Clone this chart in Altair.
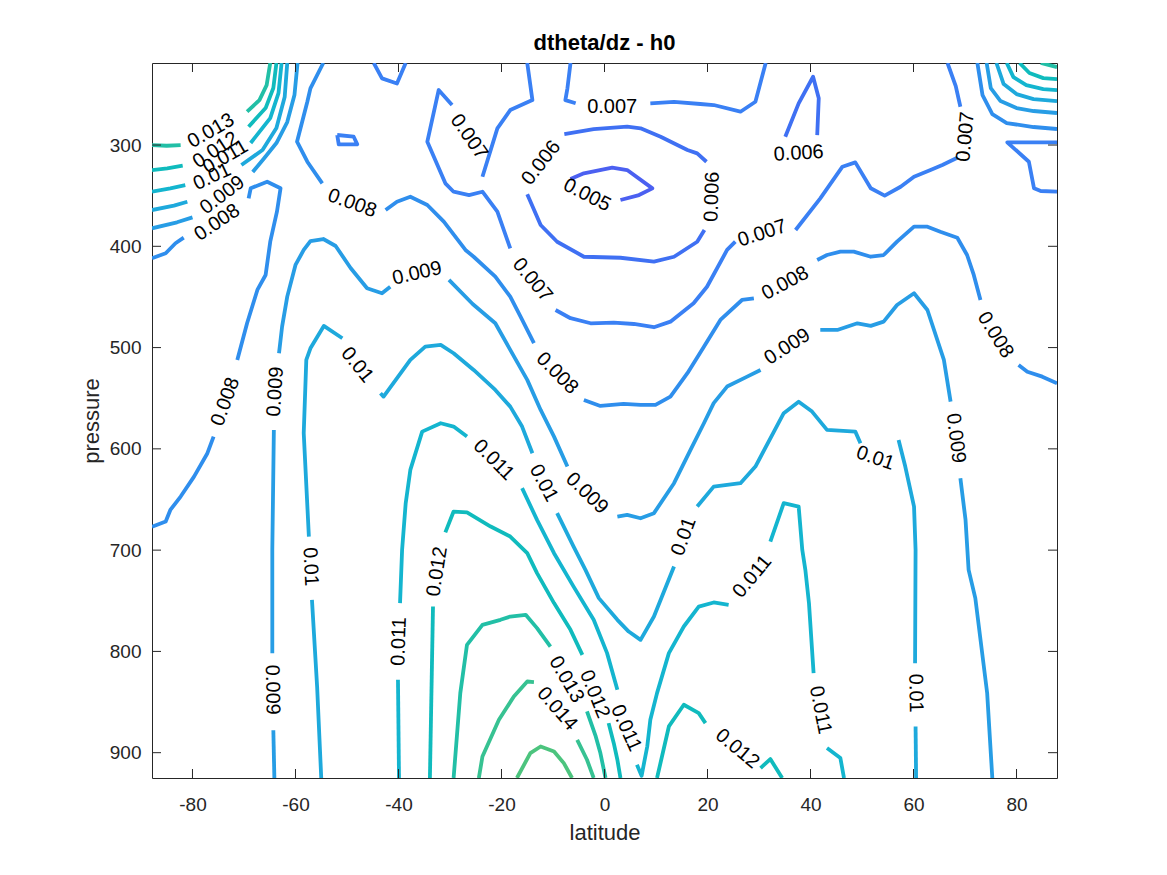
import altair as alt
import pandas as pd

FONT = "Liberation Sans"
LAT_DOMAIN = [-87.86, 87.86]
P_DOMAIN = [219.0, 925.0]

X_TICKS = [-80, -60, -40, -20, 0, 20, 40, 60, 80]
Y_TICKS = [300, 400, 500, 600, 700, 800, 900]

LEVELS = ["0.005", "0.006", "0.007", "0.008", "0.009", "0.01",
          "0.011", "0.012", "0.013", "0.014", "0.015"]
LEVEL_COLORS = ["#4b60f1", "#3f70f3", "#3a80f4", "#2f8eed", "#279de5", "#1ea9dc",
                "#14b5cf", "#10bbbd", "#22bfa6", "#37c292", "#4cc47e"]

# contour pieces per level: (latitudes, pressures)
C0005 = [
    ([-6.6, -4.0, 1.5, 4.4, 9.3, 6.7, 3.1], [333.6, 327.9, 322.4, 324.7, 342.8, 349.4, 354.3]),
]
C0006 = [
    ([-7.8, -2.1, 4.4, 7.0, 10.9, 16.1, 18.0, 19.8], [289.2, 284.2, 281.9, 283.5, 291.8, 304.9, 308.2, 316.5]),
    ([-15.0, -12.4, -9.2, -4.0, 3.1, 9.6, 13.5, 18.0, 19.4], [348.7, 379.0, 395.5, 410.3, 411.3, 415.2, 410.3, 395.5, 383.9]),
    ([35.1, 37.7, 40.5, 41.6, 41.3], [291.8, 258.9, 232.6, 253.9, 290.2]),
]
C0007 = [
    ([-15.0, -14.0, -18.3, -20.8, -23.7], [219.0, 255.6, 265.5, 283.5, 331.3]),
    ([-29.6, -32.2, -34.4, -30.9, -29.3, -26.3, -23.7, -20.8, -18.3], [260.5, 245.7, 296.7, 337.8, 346.1, 349.4, 346.1, 365.8, 402.0]),
    ([-9.5, -6.6, -2.7, 1.8, 5.7, 9.6, 12.8, 17.3, 19.9, 23.8, 25.4], [462.9, 471.0, 476.0, 475.4, 476.7, 479.9, 474.4, 456.2, 439.9, 403.6, 395.4]),
    ([37.1, 41.9, 46.2, 48.7, 51.7, 54.4, 57.5, 60.1, 63.3, 65.6, 68.5], [383.9, 352.6, 321.4, 317.1, 342.7, 350.0, 341.2, 331.3, 324.7, 319.7, 312.5]),
    ([69.1, 68.2, 66.6], [262.2, 241.8, 219.0]),
    ([-6.6, -7.2, -7.6, -5.6], [219.0, 244.0, 255.6, 258.8]),
    ([8.9, 13.5, 18.6, 21.2, 26.4, 29.3, 31.3], [258.8, 257.3, 259.5, 260.5, 267.1, 257.3, 219.0]),
    ([87.86, 78.2, 82.4, 83.4, 84.7, 87.86], [297.3, 297.3, 316.5, 342.7, 345.4, 346.1]),
    ([-44.8, -43.2, -40.3, -38.6], [219.0, 234.2, 239.2, 219.0]),
    ([-51.9, -48.7, -48.0, -51.6, -51.9], [290.1, 291.8, 299.3, 299.3, 290.1]),
]
C0008 = [
    ([-54.6, -57.1, -57.7, -59.7, -57.7, -54.8], [219.0, 244.0, 257.3, 296.7, 316.5, 337.8]),
    ([-42.5, -40.3, -37.7, -34.4, -31.2, -27.0, -25.4, -21.2, -18.3, -16.3, -13.7], [364.2, 356.0, 351.0, 359.2, 375.7, 403.6, 410.3, 430.0, 449.7, 469.5, 495.7]),
    ([-4.0, -0.8, 3.7, 7.0, 9.9, 12.8, 16.1, 19.3, 22.5, 26.7, 29.0], [551.7, 557.6, 555.6, 556.6, 556.6, 548.4, 525.3, 499.1, 472.7, 453.0, 451.3]),
    ([41.3, 43.2, 45.8, 48.4, 51.7, 54.2, 56.8, 60.1, 62.7, 65.2, 68.5, 70.4, 71.7, 73.0], [413.5, 408.6, 405.3, 405.3, 410.3, 408.6, 395.4, 380.6, 380.6, 385.6, 391.5, 408.6, 428.3, 453.0]),
    ([80.4, 82.1, 85.0, 87.86], [517.1, 523.8, 528.7, 535.2]),
    ([-87.86, -85.2, -83.3, -81.7], [411.8, 406.9, 397.0, 391.5]),
    ([-69.1, -68.7, -65.5, -62.9, -63.6, -64.9, -65.8, -67.4, -69.4, -71.3], [352.6, 342.7, 336.2, 342.7, 365.8, 395.4, 428.3, 443.1, 476.0, 512.2]),
    ([-75.9, -77.1, -79.7, -82.3, -84.3, -85.2, -87.86], [587.9, 604.3, 627.4, 647.1, 660.3, 671.8, 677.0]),
    ([72.4, 73.4, 75.3, 78.1, 83.3, 87.86], [219.0, 250.7, 269.4, 278.3, 282.2, 284.2]),
]
C0009 = [
    ([-87.86, -83.0, -80.0], [382.2, 376.3, 371.4]),
    ([-68.3, -66.2, -63.7, -61.6, -60.2, -59.6], [326.6, 313.8, 298.0, 277.3, 250.7, 219.0]),
    ([-64.1, -64.3], [925.0, 877.8]),
    ([-64.5, -64.5, -64.2], [801.7, 699.7, 581.3]),
    ([-63.2, -62.6, -61.6, -60.0, -58.4, -57.1, -54.6, -52.2, -49.3, -46.1, -43.2, -41.6], [505.6, 479.3, 449.7, 418.4, 403.6, 394.8, 392.8, 399.7, 421.4, 441.4, 446.4, 439.9]),
    ([-30.2, -25.6, -21.2, -18.3, -15.0, -12.4, -9.8, -7.2], [433.2, 457.0, 476.0, 502.3, 531.9, 561.6, 587.9, 617.5]),
    ([2.5, 4.4, 7.0, 9.6, 13.5, 16.7, 19.3, 21.2, 23.8, 27.7, 30.3], [666.9, 665.2, 668.5, 663.5, 633.9, 601.0, 574.7, 554.9, 538.5, 528.7, 522.1]),
    ([41.9, 45.2, 49.1, 51.7, 54.2, 56.8, 60.1, 62.7, 65.9, 67.2], [482.6, 482.6, 476.0, 478.6, 474.4, 457.9, 446.4, 462.9, 512.2, 553.4]),
    ([69.1, 70.1, 70.7, 72.0, 74.3, 75.3], [629.0, 670.1, 719.5, 747.4, 841.2, 925.0]),
    ([74.2, 75.0, 76.9, 80.0, 83.3, 87.86], [219.0, 243.7, 256.6, 263.5, 266.4, 268.4]),
]
C0010 = [
    ([-87.86, -83.6, -81.0], [364.2, 359.9, 356.0]),
    ([-70.5, -66.4, -63.7, -62.1, -61.6], [319.7, 304.9, 283.2, 252.6, 219.0]),
    ([-55.0, -55.8, -56.8], [925.0, 834.7, 749.1]),
    ([-57.4, -58.4, -57.9, -57.1, -54.5, -50.9], [686.6, 584.5, 512.2, 500.7, 478.6, 490.8]),
    ([-43.5, -42.9, -37.7, -34.8, -31.8, -29.3, -25.4, -21.2, -18.3, -16.0, -14.0], [545.1, 548.4, 512.2, 499.1, 497.4, 505.6, 522.1, 541.8, 558.3, 578.0, 604.3]),
    ([-9.2, -6.0, -3.7, -1.1, 2.5, 4.7, 7.0, 9.6, 13.5], [663.5, 696.5, 719.5, 747.4, 768.8, 780.4, 788.6, 765.6, 716.2]),
    ([18.0, 21.2, 26.4, 29.3, 32.9, 34.8, 37.7, 40.3, 43.2, 48.7, 49.7], [657.0, 637.3, 633.9, 617.5, 583.0, 564.8, 553.4, 563.2, 581.3, 583.0, 594.4]),
    ([57.1, 58.4, 60.1, 60.4, 60.3], [591.2, 617.5, 657.0, 699.7, 811.6]),
    ([60.4, 60.5], [874.1, 925.0]),
    ([76.1, 77.5, 80.0, 83.3, 87.86], [219.0, 239.8, 249.7, 254.6, 256.6]),
]
C0011 = [
    ([-87.86, -84.3, -81.4], [346.1, 342.7, 339.5]),
    ([-68.7, -64.9, -63.3, -62.7], [298.0, 273.4, 248.7, 219.0]),
    ([-39.9, -40.1], [925.0, 828.0]),
    ([-39.7, -39.3, -38.6, -37.7, -35.4, -31.8, -29.3, -26.7], [752.3, 699.7, 653.6, 620.8, 583.0, 574.7, 578.0, 587.9]),
    ([-16.0, -13.1, -9.8, -6.0, -2.1, 0.5, 2.5], [638.8, 670.1, 703.0, 736.0, 768.8, 801.7, 837.9]),
    ([6.3, 7.2, 8.3, 8.9, 10.2, 12.5, 15.4, 18.3, 21.2, 24.1], [911.9, 922.8, 893.9, 867.5, 841.2, 801.7, 775.4, 755.7, 751.7, 754.0]),
    ([32.2, 34.8, 37.7, 38.4, 39.0, 39.7, 40.6], [691.5, 653.6, 657.0, 699.7, 719.5, 752.3, 821.4]),
    ([43.2, 45.8, 46.5], [895.4, 905.3, 925.0]),
    ([78.1, 79.4, 81.9, 85.2, 87.86], [219.0, 232.9, 240.8, 244.7, 245.7]),
]
C0012 = [
    ([-87.86, -84.9, -81.9], [324.7, 323.0, 320.4]),
    ([-69.1, -65.8, -64.3, -63.7], [281.9, 263.5, 243.7, 219.0]),
    ([-33.9, -33.3], [925.0, 755.7]),
    ([-30.9, -29.3, -26.7, -22.1, -18.3, -15.0, -13.1, -9.8, -6.6, -4.3], [682.5, 661.9, 662.7, 676.7, 686.6, 703.0, 722.7, 752.3, 778.7, 803.4]),
    ([0.8, 1.8, 2.5, 3.1], [870.8, 890.6, 907.0, 925.0]),
    ([10.2, 12.5, 15.4, 18.3, 19.6], [925.0, 874.1, 852.7, 860.9, 870.8]),
    ([30.3, 32.2, 34.5], [915.2, 906.3, 925.0]),
    ([80.6, 82.5, 85.2, 87.86], [219.0, 228.9, 233.9, 234.9]),
]
C0013 = [
    ([-87.86, -85.0, -82.3], [300.0, 300.7, 300.0]),
    ([-69.4, -67.0, -65.6, -64.9], [267.1, 255.6, 240.8, 219.0]),
    ([-29.3, -28.0, -26.7, -23.7, -20.2, -18.3, -15.3, -13.1, -10.5], [925.0, 841.2, 793.5, 773.8, 768.8, 765.6, 763.9, 777.0, 795.2]),
    ([-3.4, -1.7, -0.8, 0.2], [859.3, 884.0, 900.4, 925.0]),
    ([84.7, 87.86], [219.0, 223.0]),
]
C0014 = [
    ([-24.4, -23.7, -20.5, -17.6, -15.0, -13.7], [925.0, 903.8, 867.5, 844.5, 829.7, 830.3]),
    ([-5.3, -3.4, -2.1], [887.3, 907.0, 925.0]),
]
C0015 = [
    ([-17.0, -14.4, -12.4, -9.8, -7.9, -6.3], [925.0, 900.4, 893.9, 898.8, 910.3, 925.0]),
]

CONTOURS = dict(zip(LEVELS, [C0005, C0006, C0007, C0008, C0009, C0010,
                             C0011, C0012, C0013, C0014, C0015]))

LABEL_TEXT = ["0.005", "0.006", "0.006", "0.006",
              "0.007", "0.007", "0.007", "0.007", "0.007",
              "0.008", "0.008", "0.008", "0.008", "0.008", "0.008",
              "0.009", "0.009", "0.009", "0.009", "0.009", "0.009", "0.009",
              "0.01", "0.01", "0.01", "0.01", "0.01", "0.01", "0.01",
              "0.011", "0.011", "0.011", "0.011", "0.011", "0.011",
              "0.012", "0.012", "0.012", "0.012",
              "0.013", "0.013", "0.014"]
LABEL_LAT = [-3.4, -12.3, 20.9, 37.7,
             1.5, -26.3, -14.0, 30.6, 70.1,
             -49.0, -9.2, 35.1, 75.9, -73.6, -75.2,
             -36.4, -3.4, 35.5, 68.2, -63.9, -64.5, -74.2,
             -57.1, -48.0, -11.8, 15.4, 52.6, 60.4, -76.2,
             -39.9, -21.5, 4.2, 28.7, 41.9, -73.6,
             -32.5, -1.9, 25.8, -75.5,
             -7.4, -76.4, -9.2]
LABEL_P = [349.4, 317.6, 351.0, 308.2,
           262.2, 291.8, 433.2, 387.2, 291.8,
           357.5, 525.3, 436.5, 487.5, 553.4, 376.5,
           426.6, 643.8, 499.1, 589.5, 543.5, 837.9, 349.4,
           716.2, 517.1, 633.9, 686.6, 609.2, 841.2, 331.3,
           790.2, 610.9, 875.7, 726.1, 857.7, 311.8,
           721.2, 842.2, 896.1, 304.9,
           827.7, 286.0, 856.7]
LABEL_ANGLE = [27, -52, -88, -3,
               0, 55, 50, -18, -85,
               20, 45, -28, 58, -70, -34,
               -13, 44, -33, 83, -86, 89, -37,
               87, 51, 62, -70, 19, 89, -25,
               -88, 45, 66, -50, 79, -30,
               -81, 68, 40, -33,
               60, -30, 49]

# ---- build tables
rows = []
seg_id = 0
for level, pieces in CONTOURS.items():
    for lats, ps in pieces:
        for i, (la, pr) in enumerate(zip(lats, ps)):
            rows.append({"level": level, "seg": seg_id, "i": i, "lat": la, "p": pr})
        seg_id += 1
lines_df = pd.DataFrame(rows)

labels_df = pd.DataFrame({"text": LABEL_TEXT, "lat": LABEL_LAT, "p": LABEL_P, "angle": LABEL_ANGLE})
xt_df = pd.DataFrame({"lat": X_TICKS})
yt_df = pd.DataFrame({"p": Y_TICKS})

W, H = 905, 715
AX = "#262626"

xscale = alt.Scale(domain=LAT_DOMAIN, nice=False, zero=False)
yscale = alt.Scale(domain=P_DOMAIN, nice=False, zero=False, reverse=True)

x_axis = alt.Axis(values=X_TICKS, title="latitude", domain=False, ticks=False, tickSize=0,
                  grid=False, labelPadding=17, labelFont=FONT, labelFontSize=19,
                  labelColor=AX, labelExpr="'' + datum.value", labelFlush=False,
                  titleFont=FONT, titleFontSize=22, titleFontWeight="normal", titleColor=AX,
                  titleX=W / 2, titleY=54, titleBaseline="middle", titleAlign="center")
y_axis = alt.Axis(values=Y_TICKS, title="pressure", domain=False, ticks=False, tickSize=0,
                  grid=False, labelPadding=11, labelFont=FONT, labelFontSize=19,
                  labelColor=AX, labelFlush=False,
                  titleFont=FONT, titleFontSize=22, titleFontWeight="normal", titleColor=AX,
                  titleX=-61, titleY=H / 2, titleAngle=270, titleBaseline="middle",
                  titleAlign="center")

X_ENC = alt.X("lat:Q", scale=xscale, axis=x_axis)
Y_ENC = alt.Y("p:Q", scale=yscale, axis=y_axis)

lines = alt.Chart(lines_df).mark_line(strokeWidth=3.8, clip=True, strokeJoin="round").encode(
    x=X_ENC,
    y=Y_ENC,
    color=alt.Color("level:N", scale=alt.Scale(domain=LEVELS, range=LEVEL_COLORS), legend=None),
    detail="seg:N",
    order="i:Q",
)

labels = alt.Chart(labels_df).mark_text(font=FONT, fontSize=20, color="black",
                                        align="center", baseline="middle").encode(
    x=X_ENC,
    y=Y_ENC,
    text="text:N",
    angle=alt.Angle("angle:Q", scale=None),
)

tick_b = alt.Chart(xt_df).mark_rule(color=AX, strokeWidth=1).encode(
    x=X_ENC, y=alt.value(H), y2=alt.value(H - 9))
tick_t = alt.Chart(xt_df).mark_rule(color=AX, strokeWidth=1).encode(
    x=X_ENC, y=alt.value(0), y2=alt.value(9))
tick_l = alt.Chart(yt_df).mark_rule(color=AX, strokeWidth=1).encode(
    y=Y_ENC, x=alt.value(0), x2=alt.value(9))
tick_r = alt.Chart(yt_df).mark_rule(color=AX, strokeWidth=1).encode(
    y=Y_ENC, x=alt.value(W), x2=alt.value(W - 9))

chart = alt.layer(lines, labels, tick_b, tick_t, tick_l, tick_r).properties(
    width=W, height=H,
    title=alt.TitleParams("dtheta/dz - h0", font=FONT, fontSize=22, fontWeight="bold",
                          color="black", anchor="middle", offset=8),
    autosize=alt.AutoSizeParams(type="none"),
    padding={"left": 152, "top": 63, "right": 110, "bottom": 97},
    background="white",
).configure_view(stroke=AX, strokeWidth=1)

chart.save("out.html", embed_options={"renderer": "svg", "actions": False})
